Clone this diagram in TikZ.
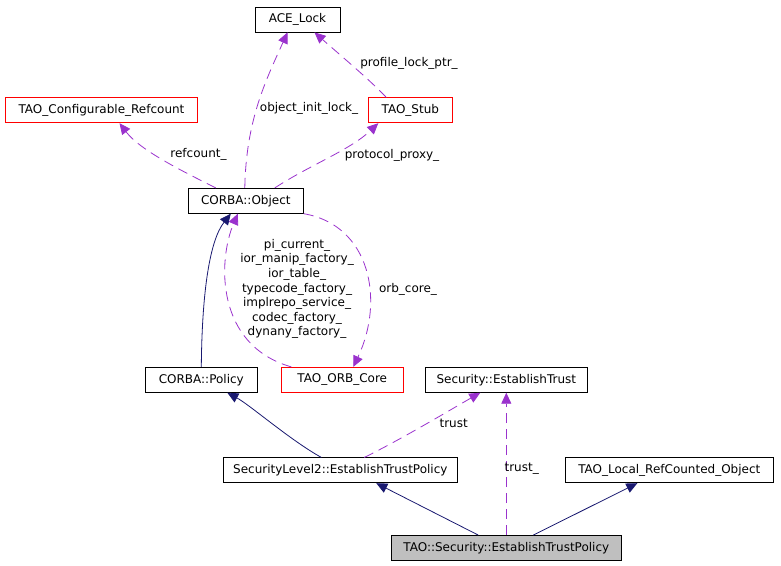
\documentclass[tikz,border=0pt]{standalone}
\usepackage{fontspec}
\setmainfont{DejaVu Sans}
\usetikzlibrary{arrows.meta}
\definecolor{membcol}{HTML}{9A32CD}
\definecolor{basecol}{HTML}{191970}
\tikzset{
  cls/.style={draw=black, line width=0.8pt, minimum height=25pt, inner sep=0pt, font=\fontsize{12}{14.6}\selectfont},
  undoc/.style={cls, draw=red},
  this/.style={cls, fill=black!25},
  inherit/.style={draw=basecol, line width=0.8pt, -{Triangle[length=11pt,width=10pt]}},
  member/.style={draw=membcol, line width=0.8pt, dash pattern=on 10pt off 6pt, -{Triangle[length=11pt,width=10pt]}},
  lbl/.style={font=\fontsize{12}{14.6}\selectfont, inner sep=0pt, align=center}
}
\begin{document}
\begin{tikzpicture}[x=1pt, y=-1pt]
  \useasboundingbox (0,0) rectangle (781,565);
  % documented classes
  \foreach \n/\x/\y/\w/\t in {acelock/297.5/19.5/85/ACE\_Lock,
      object/245.8/200.8/115/CORBA::Object,
      policy/201.3/379.8/112/CORBA::Policy,
      esttrust/506.3/379.8/162/Security::EstablishTrust,
      sl2trust/340.3/470.3/234/SecurityLevel2::EstablishTrustPolicy,
      localref/669.3/470.3/208/TAO\_Local\_RefCounted\_Object} {
    \node[cls, minimum width=\w pt] (\n) at (\x, \y) {\t};
  }
  % classes without documentation
  \foreach \n/\x/\y/\w/\t in {cfgref/101.5/110.3/192/TAO\_Configurable\_Refcount,
      stub/410.3/110.3/84/TAO\_Stub,
      orbcore/342.3/379.8/122/TAO\_ORB\_Core} {
    \node[undoc, minimum width=\w pt] (\n) at (\x, \y) {\t};
  }
  \node[this, minimum width=230pt] (taotrust) at (506.3, 548) {TAO::Security::EstablishTrustPolicy};

  % members
  \draw[member] ([xshift=-1pt]object.north) .. controls (246,120) and (266,80) .. ([xshift=-10pt]acelock.south);
  \node[lbl] (lblinit) at (309,108) {object\_init\_lock\_};
  \draw[member] ([xshift=-24pt]stub.north) .. controls (370,80) and (340,55) .. ([xshift=17pt]acelock.south);
  \node[lbl] (lblprof) at (409,63) {profile\_lock\_ptr\_};
  \draw[member] ([xshift=-30pt]object.north) .. controls (180,170) and (140,150) .. ([xshift=18pt]cfgref.south);
  \node[lbl] (lblref) at (198.5,154.3) {refcount\_};
  \draw[member] ([xshift=29pt]object.north) .. controls (310,165) and (350,150) .. ([xshift=-32pt]stub.south);
  \node[lbl] (lblproxy) at (392,155) {protocol\_proxy\_};
  \draw[member] ([xshift=-51pt]orbcore.north) .. controls (215,345) and (218,260) .. ([xshift=-8pt]object.south);
  \node[lbl] (lblcore) at (297,289) {pi\_current\_\\ior\_manip\_factory\_\\ior\_table\_\\typecode\_factory\_\\implrepo\_service\_\\codec\_factory\_\\dynany\_factory\_};
  \draw[member] (object.south east) .. controls (370,225) and (385,300) .. ([xshift=11pt]orbcore.north);
  \node[lbl] (lblorb) at (408,289) {orb\_core\_};
  \draw[member] ([xshift=24pt]sl2trust.north) .. controls (400,440) and (450,410) .. ([xshift=-26pt]esttrust.south);
  \node[lbl] (lbltrust) at (453.7,423.3) {trust};
  \draw[member] (taotrust.north) -- (esttrust.south);
  \node[lbl] (lbltrust2) at (521.7,468.3) {trust\_};

  % inheritance
  \draw[inherit] (policy.north) .. controls (202,290) and (210,240) .. ([xshift=-15pt]object.south);
  \draw[inherit] ([xshift=-19pt]sl2trust.north) .. controls (290,440) and (250,405) .. ([xshift=26pt]policy.south);
  \draw[inherit] ([xshift=-28pt]taotrust.north) -- ([xshift=36pt]sl2trust.south);
  \draw[inherit] ([xshift=27pt]taotrust.north) -- ([xshift=-32pt]localref.south);
\end{tikzpicture}
\end{document}
